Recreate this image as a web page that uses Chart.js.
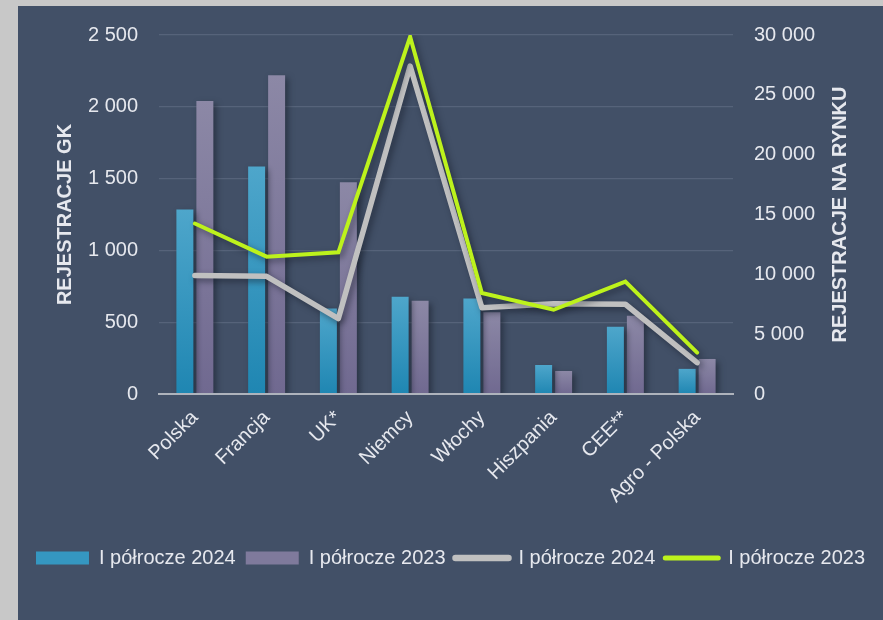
<!DOCTYPE html>
<html>
<head>
<meta charset="utf-8">
<script src="https://cdn.jsdelivr.net/npm/chart.js@4.4.1/dist/chart.umd.min.js"></script>
<style>
  html, body { margin: 0; padding: 0; background: #c8c8c8; width: 883px; height: 620px; overflow: hidden; }
  #wrap { position: absolute; left: 18px; top: 6px; width: 865px; height: 614px; background: #425067; }
  canvas { display: block; }
</style>
</head>
<body>
<div id="wrap"><canvas id="c" width="865" height="614"></canvas></div>
<script>
// ---- data ----
const categories = ['Polska', 'Francja', 'UK*', 'Niemcy', 'Włochy', 'Hiszpania', 'CEE**', 'Agro - Polska'];
const gk2024 = [1285, 1585, 595, 677, 665, 202, 468, 175];
const gk2023 = [2040, 2220, 1475, 650, 570, 160, 545, 244];
const market2024 = [9900, 9830, 6300, 27400, 7200, 7540, 7500, 2620];
const market2023 = [14250, 11480, 11840, 29850, 8440, 7040, 9385, 3460];
const seriesLabels = ['I półrocze 2024', 'I półrocze 2023', 'I półrocze 2024', 'I półrocze 2023'];
const leftTitle = 'REJESTRACJE GK';
const rightTitle = 'REJESTRACJE NA RYNKU';

const FONT = '"Liberation Sans", Arial, sans-serif';
const TEXT = '#e6e8ee';
const legendColors = ['#3597c1', '#7f7a9c', '#c0c0c0', '#bdf21c'];

function fmt(v) { return String(v).replace(/\B(?=(\d{3})+(?!\d))/g, ' '); }

function barGradient(top, bottom) {
  return function (ctx) {
    const chart = ctx.chart;
    if (!chart.chartArea || ctx.raw === undefined) return top;
    const y = chart.scales.y;
    const t = y.getPixelForValue(ctx.raw);
    const b = y.getPixelForValue(0);
    if (!isFinite(t) || !isFinite(b) || t === b) return top;
    const g = chart.ctx.createLinearGradient(0, t, 0, b);
    g.addColorStop(0, top);
    g.addColorStop(1, bottom);
    return g;
  };
}

const shadowPlugin = {
  id: 'shadowPlugin',
  beforeDatasetDraw(chart) {
    const c = chart.ctx;
    c.save();
    c.shadowColor = 'rgba(20,26,38,0.55)';
    c.shadowBlur = 6;
    c.shadowOffsetX = 3;
    c.shadowOffsetY = 3;
  },
  afterDatasetDraw(chart) { chart.ctx.restore(); }
};

const titlesPlugin = {
  id: 'titlesPlugin',
  afterDraw(chart) {
    const c = chart.ctx;
    const a = chart.chartArea;
    const cy = (a.top + a.bottom) / 2;
    [[47, leftTitle], [822, rightTitle]].forEach(([x, t]) => {
      c.save();
      c.font = 'bold 20px ' + FONT;
      c.fillStyle = TEXT;
      c.textAlign = 'center';
      c.textBaseline = 'middle';
      c.translate(x, cy);
      c.rotate(-Math.PI / 2);
      c.fillText(t, 0, 0);
      c.restore();
    });
  }
};

function fixV(width) {
  return function (s) { s.width = width; s.paddingTop = 0; s.paddingBottom = 0; };
}

new Chart(document.getElementById('c'), {
  data: {
    labels: categories,
    datasets: [
      { type: 'bar', label: seriesLabels[0], data: gk2024, yAxisID: 'y', order: 2,
        backgroundColor: barGradient('#4ea6cb', '#1f86b2'), borderWidth: 0,
        categoryPercentage: 0.557, barPercentage: 0.85 },
      { type: 'bar', label: seriesLabels[1], data: gk2023, yAxisID: 'y', order: 2,
        backgroundColor: barGradient('#8c88a6', '#706990'), borderWidth: 0,
        categoryPercentage: 0.557, barPercentage: 0.85 },
      { type: 'line', label: seriesLabels[2], data: market2024, yAxisID: 'y1', order: 1,
        borderColor: '#c0c0c0', backgroundColor: '#c0c0c0', borderWidth: 5.5,
        pointRadius: 0, pointHoverRadius: 0, tension: 0,
        borderCapStyle: 'round', borderJoinStyle: 'round', fill: false },
      { type: 'line', label: seriesLabels[3], data: market2023, yAxisID: 'y1', order: 0,
        borderColor: '#bdf21c', backgroundColor: '#bdf21c', borderWidth: 4,
        pointRadius: 0, pointHoverRadius: 0, tension: 0,
        borderCapStyle: 'round', borderJoinStyle: 'miter', fill: false }
    ]
  },
  options: {
    responsive: false,
    animation: false,
    devicePixelRatio: 1,
    layout: { padding: { left: 0, right: 0, top: 29, bottom: 42 } },
    scales: {
      x: {
        grid: { display: false, drawTicks: false },
        border: { display: true, color: '#aeb3bc', width: 2, z: 1 },
        ticks: { color: TEXT, font: { family: FONT, size: 20 }, minRotation: 45, maxRotation: 45, autoSkip: false, padding: 12 },
        afterFit(s) { s.height = 144; }
      },
      y: {
        position: 'left', min: 0, max: 2500,
        grid: { color: '#56637a', lineWidth: 1.2, drawTicks: false },
        border: { display: false },
        ticks: { stepSize: 500, color: TEXT, font: { family: FONT, size: 20 }, padding: 21, callback: v => fmt(v) },
        afterFit: fixV(141)
      },
      y1: {
        position: 'right', min: 0, max: 30000,
        grid: { display: false, drawTicks: false },
        border: { display: false },
        ticks: { stepSize: 5000, color: TEXT, font: { family: FONT, size: 20 }, padding: 21, callback: v => fmt(v) },
        afterFit: fixV(150)
      }
    },
    plugins: {
      tooltip: { enabled: false },
      legend: {
        position: 'bottom',
        labels: {
          color: TEXT,
          font: { family: FONT, size: 20 },
          usePointStyle: true,
          pointStyleWidth: 53,
          boxHeight: 13,
          padding: 10,
          sort: (a, b) => a.datasetIndex - b.datasetIndex,
          generateLabels(chart) {
            const items = Chart.defaults.plugins.legend.labels.generateLabels(chart);
            items.forEach(it => {
              const ds = chart.data.datasets[it.datasetIndex];
              const col = legendColors[it.datasetIndex];
              it.fillStyle = col;
              it.strokeStyle = col;
              it.fontColor = TEXT;
              if (ds.type === 'line') {
                it.pointStyle = 'line';
                it.lineWidth = ds.borderWidth + 1;
                it.lineCap = 'round';
              } else {
                it.pointStyle = 'rect';
                it.lineWidth = 0;
              }
            });
            return items;
          }
        }
      }
    }
  },
  plugins: [shadowPlugin, titlesPlugin]
});
</script>
</body>
</html>
